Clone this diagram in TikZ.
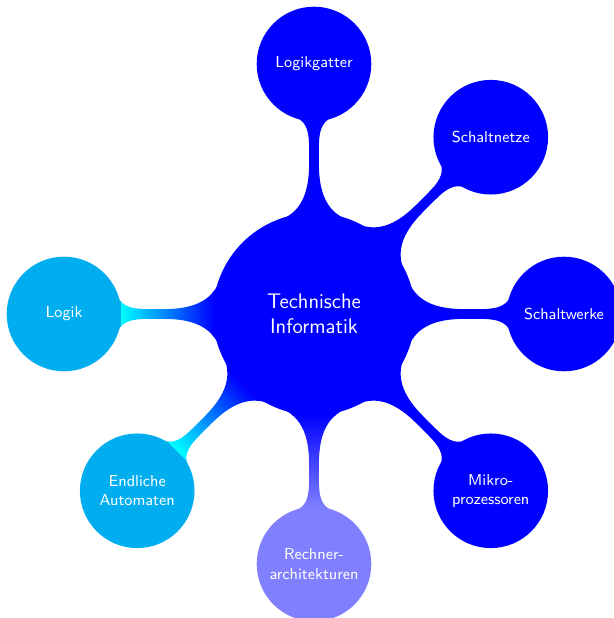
\documentclass[tikz,border=0pt]{standalone}
\usepackage{tikz}
\usetikzlibrary{mindmap}
\begin{document}
\begin{tikzpicture}[
mindmap,
concept color=blue,
text=white,
topic/.style={font=\sffamily\large},
subtopic/.style={font=\sffamily\small},
]
\useasboundingbox (-6.28,-6.08) rectangle (6.0,6.28);
\node[concept, topic] (ti) {Technische\\Informatik}
	child [grow=90] { node[concept, subtopic] (gatter) {Logikgatter} }
	child [grow=45] { node[concept, subtopic] (netze) {Schaltnetze} }
	child [grow=0] { node[concept, subtopic] (werke) {Schaltwerke} }
	child [grow=-45] { node[concept, subtopic] (mikro) {Mikro-\\prozessoren} }
	child [grow=-90, concept color=blue!50] { node[concept, subtopic] (rechner) {Rechner-\\architekturen} }
	child [grow=-135, concept color=cyan] { node[concept, subtopic] (automaten) {Endliche\\Automaten} }
	child [grow=180, concept color=cyan] { node[concept, subtopic] (logik) {Logik} };
\end{tikzpicture}
\end{document}
